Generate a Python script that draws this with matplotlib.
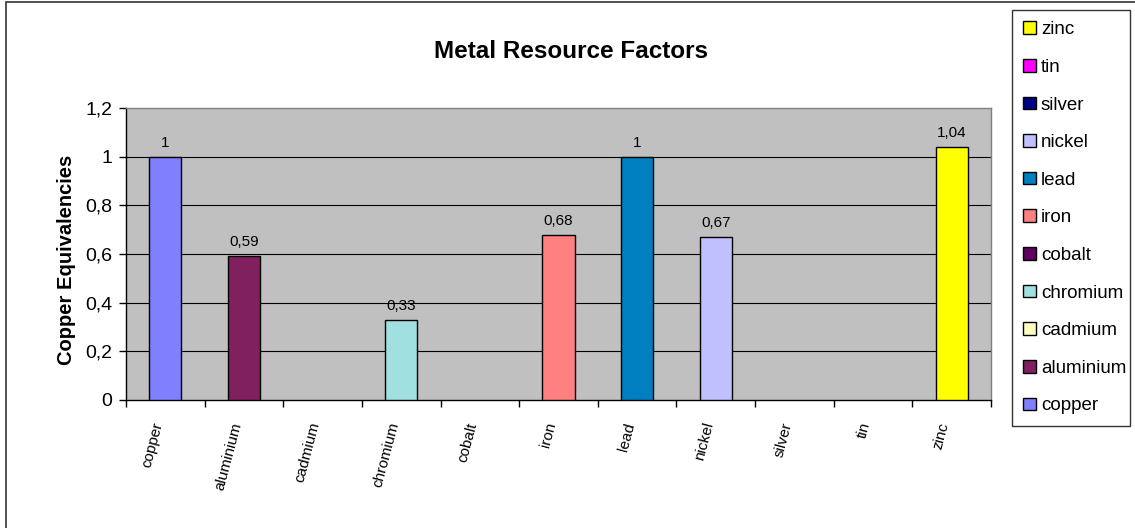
import matplotlib
matplotlib.use('Agg')
import matplotlib.pyplot as plt
import numpy as np
from matplotlib.patches import Rectangle, Patch
from matplotlib.ticker import FuncFormatter

plt.rcParams['font.family'] = ['Liberation Sans', 'DejaVu Sans']

# ___DATA___ #
METALS = ['copper', 'aluminium', 'cadmium', 'chromium', 'cobalt', 'iron',
          'lead', 'nickel', 'silver', 'tin', 'zinc']
FACTORS = [1, 0.59, np.nan, 0.33, np.nan, 0.68, 1, 0.67, np.nan, np.nan, 1.04]
COLORS = ['#8080FF', '#80205F', '#FFFFC0', '#A0E0E0', '#600060', '#FF8080',
          '#0080C0', '#C0C0FF', '#000080', '#FF00FF', '#FFFF00']
Y_TICKS = [0, 0.2, 0.4, 0.6, 0.8, 1.0, 1.2]
TITLE = 'Metal Resource Factors'
Y_LABEL = 'Copper Equivalencies'

W, H = 1135, 528


def comma(v, pos=None):
    return ('%g' % v).replace('.', ',')


fig = plt.figure(figsize=(W / 100, H / 100), dpi=100)
ax = fig.add_axes([126 / W, 1 - 400 / H, 865 / W, 292 / H])
ax.set_facecolor('#C0C0C0')

x = np.arange(len(METALS))
width = 0.41
for i, (name, val, col) in enumerate(zip(METALS, FACTORS, COLORS)):
    if np.isnan(val):
        continue
    rect = ax.bar(x[i], val, width, color=col, edgecolor='black', linewidth=1, zorder=3)
    ax.bar_label(rect, labels=[comma(val)], padding=5, fontsize=11)

ax.set_xlim(-0.5, len(METALS) - 0.5)
ax.set_ylim(0, 1.2)
ax.set_yticks(Y_TICKS)
ax.yaxis.set_major_formatter(FuncFormatter(comma))
ax.tick_params(axis='y', direction='out', length=5, width=1, labelsize=14, pad=5)
for y in Y_TICKS[1:-1]:
    ax.axhline(y, color='black', linewidth=0.8, zorder=1)

# category boundary ticks, labels at centers
ax.set_xticks(np.arange(len(METALS) + 1) - 0.5)
ax.set_xticklabels([])
ax.tick_params(axis='x', direction='out', length=5, width=1)
ax.set_xticks(x, minor=True)
ax.set_xticklabels(METALS, minor=True, rotation=75, ha='right', va='top', fontsize=11)
ax.tick_params(axis='x', which='minor', length=0, pad=15)

for s in ['left', 'bottom']:
    ax.spines[s].set_color('black')
    ax.spines[s].set_linewidth(1)
for s in ['top', 'right']:
    ax.spines[s].set_color('#808080')
    ax.spines[s].set_linewidth(1)

fig.text(571 / W, 1 - 52 / H, TITLE, ha='center', va='center',
         fontsize=17.5, fontweight='bold')
fig.text(67 / W, 1 - 260 / H, Y_LABEL, ha='center', va='center',
         rotation=90, fontsize=14.5, fontweight='bold')

# legend in reverse order
handles = [Patch(facecolor=c, edgecolor='black', linewidth=1, label=n)
           for n, c in zip(METALS, COLORS)][::-1]
leg = fig.legend(handles=handles, loc='upper left',
                 bbox_to_anchor=(1012 / W, 1 - 430 / H, 118 / W, 420 / H),
                 mode='expand', fontsize=13.5, frameon=True, fancybox=False,
                 edgecolor='black', handlelength=0.66, handleheight=0.66,
                 handletextpad=0.28, labelspacing=1.1, borderpad=0.6,
                 borderaxespad=0)
leg.get_frame().set_linewidth(1)

# outer chart border
fig.patches.append(Rectangle((6 / W, -0.05), 1.2, 1.05 - 1.5 / H,
                             transform=fig.transFigure, fill=False,
                             edgecolor='#333333', linewidth=1.2))

fig.savefig('out.png', dpi=100)
